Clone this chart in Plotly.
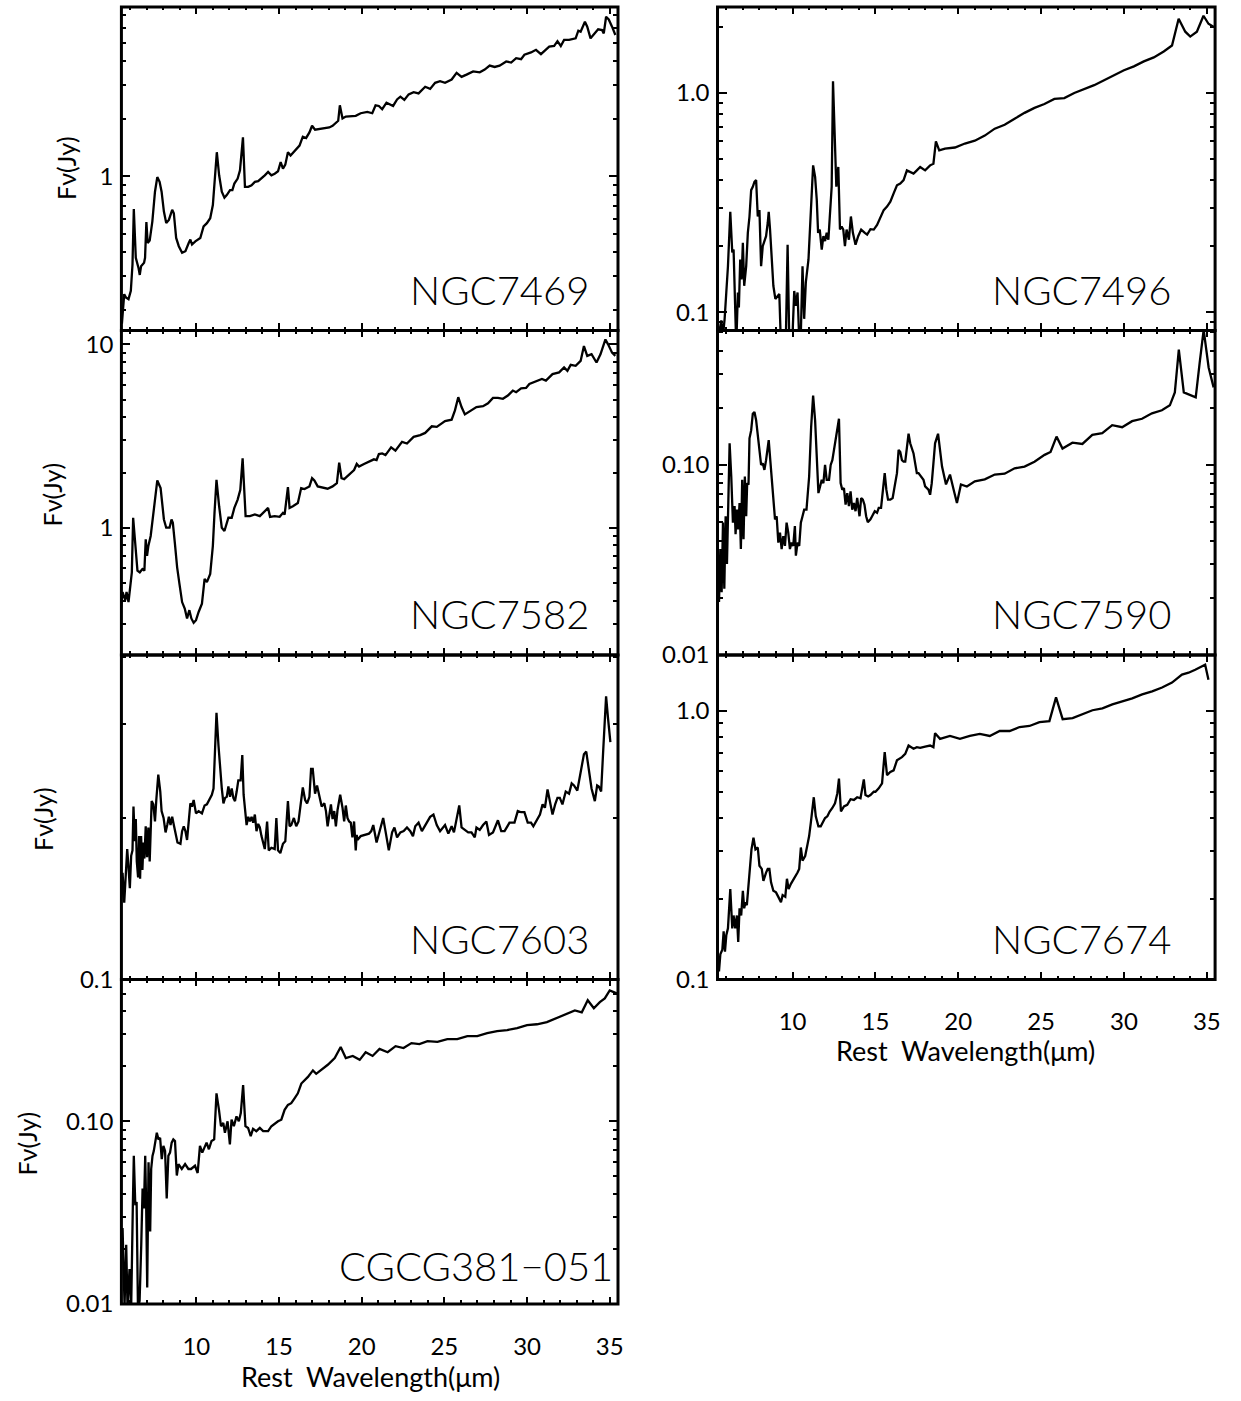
import plotly.graph_objects as go

# ---------------- spectra: rest wavelength (micron) / flux density (Jy) ----------------
ngc7469_wave = [5.50, 5.64, 5.74, 5.90, 6.04, 6.14, 6.22, 6.34, 6.50, 6.58,
                6.66, 6.84, 6.90, 6.98, 7.06, 7.18, 7.34, 7.50, 7.64, 7.78,
                7.90, 8.04, 8.18, 8.34, 8.54, 8.64, 8.78, 8.94, 9.14, 9.34,
                9.54, 9.64, 9.74, 9.94, 10.24, 10.44, 10.64, 10.84, 11.00, 11.14,
                11.24, 11.38, 11.54, 11.70, 11.84, 12.04, 12.18, 12.30, 12.50, 12.64,
                12.74, 12.82, 12.94, 13.14, 13.34, 13.54, 13.74, 13.94, 14.14, 14.34,
                14.54, 14.74, 14.94, 15.10, 15.24, 15.38, 15.54, 15.70, 15.94, 16.24,
                16.44, 16.64, 16.84, 17.00, 17.18, 17.44, 17.74, 18.04, 18.24, 18.44,
                18.58, 18.68, 18.84, 19.04, 19.34, 19.64, 19.94, 20.34, 20.64, 20.84,
                21.04, 21.24, 21.50, 21.70, 21.90, 22.14, 22.34, 22.58, 22.84, 23.14,
                23.44, 23.84, 24.14, 24.44, 24.74, 25.04, 25.44, 25.74, 26.04, 26.34,
                26.74, 27.14, 27.44, 27.74, 28.04, 28.34, 28.74, 29.04, 29.34, 29.64,
                29.84, 30.24, 30.54, 30.84, 31.14, 31.34, 31.64, 31.84, 32.04, 32.24,
                32.54, 32.94, 33.10, 33.24, 33.50, 33.64, 33.84, 34.04, 34.30, 34.54,
                34.64, 34.78, 34.94, 35.14, 35.34]
ngc7469_flux = [0.169, 0.241, 0.232, 0.227, 0.251, 0.345, 0.674, 0.374, 0.332, 0.304,
                0.338, 0.352, 0.374, 0.575, 0.447, 0.460, 0.579, 0.830, 0.990, 0.935,
                0.830, 0.653, 0.568, 0.591, 0.667, 0.640, 0.475, 0.430, 0.397, 0.405,
                0.447, 0.466, 0.439, 0.456, 0.475, 0.546, 0.568, 0.603, 0.707, 0.973,
                1.337, 1.012, 0.830, 0.772, 0.797, 0.846, 0.846, 0.916, 0.973, 1.074,
                1.337, 1.600, 0.881, 0.881, 0.898, 0.935, 0.942, 0.973, 1.012, 1.053,
                1.012, 1.032, 1.062, 1.186, 1.096, 1.150, 1.337, 1.285, 1.348, 1.448,
                1.613, 1.588, 1.698, 1.840, 1.754, 1.767, 1.782, 1.803, 1.840, 1.914,
                1.954, 2.356, 2.009, 2.056, 2.074, 2.074, 2.140, 2.175, 2.140, 2.356,
                2.337, 2.246, 2.431, 2.384, 2.337, 2.529, 2.612, 2.512, 2.686, 2.762,
                2.718, 2.944, 2.871, 3.090, 3.148, 3.090, 3.214, 3.483, 3.319, 3.412,
                3.548, 3.508, 3.622, 3.802, 3.741, 3.802, 4.000, 3.945, 4.159, 4.111,
                4.335, 4.457, 4.603, 4.365, 4.603, 4.786, 4.819, 5.105, 4.819, 5.188,
                5.188, 5.284, 5.794, 5.727, 6.457, 6.081, 5.284, 5.569, 5.888, 5.834,
                5.610, 6.855, 6.637, 6.081, 5.500]

ngc7582_wave = [5.44, 5.54, 5.70, 5.78, 5.90, 6.04, 6.10, 6.18, 6.30, 6.44,
                6.58, 6.74, 6.86, 6.94, 7.02, 7.10, 7.24, 7.38, 7.50, 7.64,
                7.84, 7.94, 8.04, 8.18, 8.38, 8.50, 8.58, 8.70, 8.84, 8.98,
                9.14, 9.30, 9.44, 9.58, 9.70, 9.84, 9.98, 10.14, 10.34, 10.50,
                10.64, 10.84, 11.00, 11.10, 11.22, 11.38, 11.54, 11.70, 11.84, 11.94,
                12.14, 12.30, 12.50, 12.66, 12.80, 12.90, 12.98, 13.24, 13.54, 13.84,
                14.14, 14.34, 14.46, 14.74, 15.04, 15.24, 15.34, 15.54, 15.64, 15.84,
                16.14, 16.34, 16.54, 16.84, 17.00, 17.14, 17.34, 17.64, 17.94, 18.24,
                18.50, 18.64, 18.78, 18.94, 19.24, 19.54, 19.70, 19.84, 20.14, 20.44,
                20.74, 20.90, 21.04, 21.24, 21.44, 21.78, 22.04, 22.44, 22.74, 23.14,
                23.54, 23.84, 24.24, 24.54, 25.04, 25.44, 25.64, 25.84, 26.04, 26.24,
                26.54, 26.94, 27.34, 27.64, 27.94, 28.24, 28.54, 28.84, 29.14, 29.34,
                29.64, 29.94, 30.14, 30.54, 30.90, 31.14, 31.54, 31.94, 32.24, 32.44,
                32.64, 32.94, 33.24, 33.44, 33.64, 33.90, 34.20, 34.44, 34.74, 34.90,
                35.14, 35.34]
ngc7582_flux = [0.362, 0.446, 0.402, 0.446, 0.393, 0.505, 0.571, 1.133, 0.796, 0.583,
                0.571, 0.595, 0.583, 0.865, 0.703, 0.796, 0.901, 1.133, 1.483, 1.810,
                1.645, 1.365, 1.109, 1.000, 1.000, 1.109, 1.064, 0.830, 0.608, 0.494,
                0.393, 0.362, 0.320, 0.355, 0.320, 0.303, 0.313, 0.347, 0.385, 0.526,
                0.505, 0.560, 0.796, 1.205, 1.825, 1.309, 1.000, 0.959, 1.064, 1.133,
                1.133, 1.282, 1.423, 1.611, 2.390, 1.452, 1.156, 1.156, 1.180, 1.156,
                1.230, 1.282, 1.146, 1.156, 1.146, 1.205, 1.180, 1.667, 1.282, 1.309,
                1.365, 1.645, 1.625, 1.680, 1.862, 1.810, 1.680, 1.660, 1.632, 1.680,
                1.750, 2.265, 1.862, 1.840, 1.942, 2.065, 2.228, 2.154, 2.228, 2.291,
                2.360, 2.340, 2.523, 2.543, 2.490, 2.741, 2.630, 2.938, 2.879, 3.128,
                3.198, 3.289, 3.573, 3.548, 3.819, 3.882, 4.365, 5.152, 4.550, 4.150,
                4.325, 4.550, 4.603, 4.775, 5.105, 5.105, 5.047, 5.260, 5.598, 5.483,
                5.754, 5.781, 6.081, 6.281, 6.471, 6.339, 6.887, 7.031, 7.482, 7.178,
                7.727, 7.638, 8.128, 9.795, 8.650, 8.831, 7.962, 8.831, 10.64, 10.00,
                9.016, 8.650]

ngc7603_wave = [5.44, 5.54, 5.64, 5.74, 5.82, 5.90, 5.98, 6.06, 6.14, 6.20,
                6.28, 6.34, 6.40, 6.48, 6.54, 6.60, 6.66, 6.74, 6.80, 6.86,
                6.94, 7.02, 7.10, 7.18, 7.26, 7.30, 7.40, 7.50, 7.58, 7.70,
                7.82, 7.90, 8.02, 8.14, 8.24, 8.34, 8.44, 8.54, 8.64, 8.74,
                8.86, 9.04, 9.14, 9.24, 9.34, 9.44, 9.54, 9.64, 9.74, 9.84,
                9.98, 10.14, 10.34, 10.50, 10.64, 10.78, 10.94, 11.04, 11.14, 11.22,
                11.34, 11.44, 11.54, 11.64, 11.74, 11.84, 11.94, 12.04, 12.14, 12.24,
                12.34, 12.44, 12.54, 12.68, 12.78, 12.86, 12.94, 13.04, 13.14, 13.24,
                13.34, 13.44, 13.54, 13.64, 13.74, 13.84, 13.94, 14.14, 14.28, 14.38,
                14.54, 14.74, 14.84, 14.94, 15.08, 15.24, 15.38, 15.54, 15.64, 15.74,
                15.90, 16.04, 16.18, 16.34, 16.44, 16.58, 16.70, 16.84, 16.94, 17.04,
                17.18, 17.30, 17.44, 17.58, 17.74, 17.84, 17.94, 18.04, 18.14, 18.24,
                18.34, 18.44, 18.54, 18.70, 18.84, 18.94, 19.04, 19.14, 19.24, 19.34,
                19.44, 19.54, 19.64, 19.70, 19.74, 19.94, 20.14, 20.44, 20.58, 20.70,
                20.90, 21.10, 21.30, 21.44, 21.64, 21.84, 21.98, 22.14, 22.34, 22.54,
                22.74, 22.94, 23.10, 23.24, 23.44, 23.64, 23.84, 24.14, 24.34, 24.54,
                24.74, 25.04, 25.24, 25.44, 25.58, 25.74, 25.90, 26.04, 26.24, 26.44,
                26.64, 26.84, 26.94, 27.14, 27.34, 27.54, 27.70, 27.94, 28.24, 28.44,
                28.64, 28.94, 29.24, 29.44, 29.64, 29.84, 30.04, 30.24, 30.38, 30.64,
                30.78, 30.94, 31.08, 31.24, 31.34, 31.54, 31.70, 31.84, 31.98, 32.14,
                32.34, 32.54, 32.70, 32.84, 33.04, 33.24, 33.44, 33.58, 33.74, 33.90,
                34.10, 34.24, 34.34, 34.48, 34.60, 34.78, 34.90, 35.04]
ngc7603_flux = [0.139, 0.158, 0.139, 0.160, 0.175, 0.162, 0.148, 0.170, 0.174, 0.210,
                0.181, 0.199, 0.166, 0.155, 0.185, 0.154, 0.185, 0.160, 0.180, 0.168,
                0.193, 0.169, 0.192, 0.166, 0.194, 0.215, 0.212, 0.197, 0.216, 0.241,
                0.224, 0.206, 0.200, 0.188, 0.194, 0.201, 0.194, 0.201, 0.194, 0.188,
                0.180, 0.179, 0.189, 0.193, 0.189, 0.182, 0.200, 0.213, 0.210, 0.216,
                0.204, 0.206, 0.204, 0.211, 0.212, 0.216, 0.221, 0.227, 0.269, 0.314,
                0.273, 0.247, 0.227, 0.213, 0.218, 0.219, 0.229, 0.219, 0.227, 0.218,
                0.215, 0.224, 0.235, 0.235, 0.262, 0.221, 0.207, 0.194, 0.201, 0.197,
                0.201, 0.196, 0.203, 0.189, 0.195, 0.192, 0.185, 0.175, 0.197, 0.174,
                0.176, 0.175, 0.200, 0.174, 0.172, 0.179, 0.181, 0.215, 0.193, 0.194,
                0.200, 0.193, 0.197, 0.213, 0.228, 0.216, 0.213, 0.219, 0.247, 0.247,
                0.222, 0.230, 0.221, 0.210, 0.213, 0.206, 0.193, 0.203, 0.212, 0.199,
                0.206, 0.193, 0.207, 0.221, 0.209, 0.197, 0.211, 0.200, 0.197, 0.196,
                0.184, 0.197, 0.174, 0.186, 0.182, 0.185, 0.186, 0.187, 0.189, 0.194,
                0.180, 0.189, 0.200, 0.189, 0.174, 0.188, 0.192, 0.184, 0.188, 0.189,
                0.192, 0.189, 0.185, 0.193, 0.196, 0.189, 0.194, 0.201, 0.203, 0.194,
                0.189, 0.194, 0.187, 0.193, 0.188, 0.200, 0.211, 0.192, 0.190, 0.188,
                0.188, 0.184, 0.192, 0.190, 0.194, 0.197, 0.186, 0.188, 0.198, 0.189,
                0.189, 0.196, 0.196, 0.206, 0.205, 0.205, 0.196, 0.196, 0.193, 0.200,
                0.203, 0.212, 0.209, 0.226, 0.218, 0.203, 0.212, 0.218, 0.218, 0.212,
                0.224, 0.222, 0.232, 0.230, 0.225, 0.245, 0.263, 0.266, 0.247, 0.227,
                0.215, 0.230, 0.229, 0.224, 0.265, 0.337, 0.306, 0.277]

cgcg381_wave = [5.54, 5.66, 5.76, 5.84, 5.96, 6.06, 6.16, 6.22, 6.31, 6.39,
                6.47, 6.57, 6.67, 6.75, 6.83, 6.91, 6.97, 7.03, 7.11, 7.21,
                7.27, 7.35, 7.43, 7.51, 7.61, 7.71, 7.81, 7.91, 8.01, 8.11,
                8.21, 8.31, 8.41, 8.51, 8.61, 8.71, 8.82, 8.92, 9.12, 9.32,
                9.52, 9.68, 9.92, 10.08, 10.22, 10.36, 10.52, 10.62, 10.76, 10.92,
                11.08, 11.22, 11.37, 11.49, 11.63, 11.73, 11.89, 12.03, 12.13, 12.27,
                12.43, 12.57, 12.69, 12.83, 12.97, 13.13, 13.29, 13.43, 13.63, 13.84,
                14.04, 14.34, 14.54, 14.74, 14.94, 15.14, 15.34, 15.54, 15.74, 15.94,
                16.14, 16.35, 16.55, 16.75, 17.05, 17.25, 17.95, 18.37, 18.73, 19.04,
                19.46, 19.88, 20.24, 20.66, 21.08, 21.57, 22.05, 22.53, 23.01, 23.49,
                23.98, 24.58, 25.18, 25.78, 26.39, 26.99, 27.59, 28.19, 28.80, 29.40,
                30.00, 30.60, 31.20, 31.81, 32.41, 32.89, 33.31, 33.67, 34.04, 34.40,
                34.70, 35.00, 35.42]
cgcg381_flux = [0.0260, 0.0098, 0.0211, 0.0095, 0.0155, 0.0095, 0.0340, 0.0647, 0.0347, 0.0362,
                0.0095, 0.0104, 0.0211, 0.0428, 0.0333, 0.0647, 0.0333, 0.0123, 0.0596, 0.0249,
                0.0548, 0.0647, 0.0689, 0.0764, 0.0865, 0.0796, 0.0813, 0.0621, 0.0733, 0.0689,
                0.0378, 0.0647, 0.0674, 0.0764, 0.0796, 0.0780, 0.0505, 0.0583, 0.0548, 0.0583,
                0.0548, 0.0548, 0.0571, 0.0521, 0.0733, 0.0674, 0.0733, 0.0764, 0.0703, 0.0780,
                0.0796, 0.1423, 0.1156, 0.0940, 0.0979, 0.0865, 0.1000, 0.0748, 0.1021, 0.0940,
                0.1064, 0.1000, 0.1109, 0.1578, 0.0940, 0.0920, 0.0830, 0.0909, 0.0883, 0.0920,
                0.0883, 0.0883, 0.0940, 0.0971, 0.1000, 0.1021, 0.1156, 0.1230, 0.1256, 0.1336,
                0.1423, 0.161, 0.168, 0.175, 0.190, 0.182, 0.204, 0.222, 0.255, 0.222,
                0.228, 0.217, 0.239, 0.228, 0.249, 0.239, 0.258, 0.252, 0.268, 0.265,
                0.275, 0.272, 0.282, 0.282, 0.293, 0.293, 0.304, 0.312, 0.316, 0.324,
                0.336, 0.340, 0.349, 0.367, 0.386, 0.405, 0.395, 0.460, 0.416, 0.449,
                0.471, 0.521, 0.502]

ngc7496_wave = [5.56, 5.70, 5.80, 5.90, 6.00, 6.10, 6.24, 6.36, 6.44, 6.52,
                6.60, 6.70, 6.76, 6.84, 6.92, 7.00, 7.08, 7.20, 7.30, 7.40,
                7.50, 7.60, 7.70, 7.80, 7.90, 8.00, 8.10, 8.20, 8.30, 8.40,
                8.50, 8.56, 8.64, 8.74, 8.84, 8.96, 9.10, 9.20, 9.30, 9.50,
                9.60, 9.70, 9.80, 10.00, 10.10, 10.20, 10.30, 10.40, 10.50, 10.60,
                10.70, 10.80, 10.96, 11.10, 11.24, 11.36, 11.46, 11.54, 11.64, 11.76,
                11.86, 11.96, 12.06, 12.16, 12.28, 12.36, 12.44, 12.54, 12.64, 12.76,
                12.86, 12.96, 13.06, 13.16, 13.26, 13.40, 13.52, 13.64, 13.80, 13.96,
                14.14, 14.36, 14.50, 14.70, 14.90, 15.10, 15.30, 15.50, 15.70, 15.90,
                16.10, 16.30, 16.50, 16.70, 16.90, 17.10, 17.30, 17.50, 17.70, 18.00,
                18.30, 18.50, 18.65, 18.85, 19.20, 19.80, 20.40, 21.00, 21.60, 22.20,
                22.80, 23.40, 24.00, 24.60, 25.20, 25.80, 26.40, 27.00, 27.60, 28.20,
                28.80, 29.40, 30.00, 30.60, 31.20, 31.80, 32.40, 32.90, 33.30, 33.70,
                34.00, 34.40, 34.80, 35.10, 35.40]
ngc7496_flux = [0.080, 0.0917, 0.078, 0.0933, 0.123, 0.162, 0.287, 0.187, 0.193, 0.123,
                0.070, 0.123, 0.105, 0.174, 0.141, 0.207, 0.132, 0.162, 0.230, 0.273,
                0.360, 0.373, 0.393, 0.400, 0.273, 0.292, 0.162, 0.200, 0.214, 0.222,
                0.255, 0.287, 0.238, 0.187, 0.132, 0.115, 0.119, 0.121, 0.070, 0.060,
                0.080, 0.203, 0.075, 0.080, 0.125, 0.107, 0.123, 0.075, 0.080, 0.162,
                0.0933, 0.137, 0.174, 0.283, 0.467, 0.414, 0.325, 0.230, 0.238, 0.193,
                0.222, 0.211, 0.230, 0.214, 0.325, 0.373, 1.129, 0.649, 0.373, 0.459,
                0.238, 0.246, 0.238, 0.200, 0.238, 0.214, 0.273, 0.230, 0.203, 0.222,
                0.238, 0.230, 0.226, 0.239, 0.238, 0.250, 0.268, 0.292, 0.303, 0.319,
                0.348, 0.379, 0.386, 0.400, 0.443, 0.436, 0.428, 0.443, 0.459, 0.443,
                0.467, 0.475, 0.600, 0.546, 0.557, 0.563, 0.587, 0.605, 0.638, 0.686,
                0.715, 0.761, 0.810, 0.853, 0.889, 0.937, 0.946, 0.997, 1.039, 1.083,
                1.141, 1.202, 1.266, 1.319, 1.390, 1.449, 1.542, 1.641, 2.173, 1.898,
                1.803, 1.898, 2.243, 2.063, 2.000]

ngc7590_wave = [5.56, 5.64, 5.72, 5.80, 5.88, 5.96, 6.04, 6.12, 6.20, 6.30,
                6.40, 6.50, 6.56, 6.64, 6.72, 6.80, 6.88, 6.96, 7.04, 7.12,
                7.20, 7.26, 7.34, 7.40, 7.50, 7.60, 7.70, 7.80, 7.90, 8.00,
                8.10, 8.20, 8.30, 8.40, 8.50, 8.56, 8.64, 8.74, 8.84, 8.94,
                9.04, 9.14, 9.24, 9.34, 9.44, 9.54, 9.64, 9.74, 9.84, 9.94,
                10.04, 10.14, 10.20, 10.30, 10.40, 10.50, 10.60, 10.70, 10.84, 11.00,
                11.12, 11.24, 11.36, 11.46, 11.56, 11.66, 11.76, 11.86, 11.96, 12.06,
                12.20, 12.30, 12.40, 12.50, 12.60, 12.70, 12.80, 12.90, 13.00, 13.10,
                13.20, 13.30, 13.40, 13.50, 13.60, 13.70, 13.80, 13.90, 14.04, 14.14,
                14.24, 14.34, 14.44, 14.54, 14.70, 14.80, 14.96, 15.10, 15.20, 15.34,
                15.46, 15.56, 15.66, 15.76, 15.90, 16.04, 16.16, 16.30, 16.40, 16.50,
                16.60, 16.70, 16.80, 16.90, 17.00, 17.10, 17.20, 17.30, 17.40, 17.50,
                17.60, 17.76, 17.90, 18.00, 18.10, 18.20, 18.30, 18.40, 18.50, 18.60,
                18.78, 19.02, 19.26, 19.50, 19.74, 19.92, 20.16, 20.52, 21.00, 21.60,
                22.20, 22.80, 23.40, 24.00, 24.60, 25.21, 25.57, 25.93, 26.29, 26.89,
                27.49, 28.09, 28.69, 29.29, 29.89, 30.49, 31.09, 31.69, 32.29, 32.77,
                33.07, 33.31, 33.61, 33.97, 34.33, 34.57, 34.81, 35.11, 35.41]
ngc7590_flux = [0.0190, 0.0361, 0.0214, 0.0497, 0.0223, 0.0537, 0.0301, 0.0802, 0.130, 0.0869,
                0.0497, 0.0607, 0.0432, 0.0582, 0.0458, 0.0631, 0.0361, 0.0835, 0.0406, 0.0869,
                0.0537, 0.0802, 0.0787, 0.138, 0.152, 0.186, 0.190, 0.172, 0.144, 0.115,
                0.100, 0.102, 0.0942, 0.106, 0.120, 0.135, 0.110, 0.0835, 0.0657, 0.0517,
                0.0537, 0.0390, 0.0440, 0.0361, 0.0422, 0.0375, 0.0497, 0.0440, 0.0361, 0.0390,
                0.0375, 0.0477, 0.0333, 0.0390, 0.0375, 0.0497, 0.0537, 0.0582, 0.0582, 0.0869,
                0.158, 0.232, 0.172, 0.115, 0.0711, 0.0771, 0.0835, 0.0802, 0.100, 0.0835,
                0.0835, 0.100, 0.106, 0.120, 0.135, 0.152, 0.175, 0.0802, 0.0741, 0.0756,
                0.0618, 0.0711, 0.0607, 0.0726, 0.0582, 0.0631, 0.0571, 0.0670, 0.0537, 0.0670,
                0.0657, 0.0618, 0.0537, 0.0500, 0.0517, 0.0537, 0.0571, 0.0560, 0.0594, 0.0594,
                0.0741, 0.0905, 0.0741, 0.0657, 0.0657, 0.0670, 0.0771, 0.0905, 0.120, 0.117,
                0.106, 0.104, 0.104, 0.120, 0.146, 0.130, 0.122, 0.115, 0.102, 0.0905,
                0.0905, 0.0869, 0.0835, 0.0771, 0.0756, 0.0741, 0.0697, 0.0802, 0.102, 0.130,
                0.146, 0.098, 0.079, 0.089, 0.073, 0.063, 0.079, 0.077, 0.082, 0.084,
                0.089, 0.090, 0.096, 0.098, 0.104, 0.113, 0.117, 0.141, 0.122, 0.131,
                0.129, 0.144, 0.147, 0.162, 0.158, 0.170, 0.175, 0.187, 0.194, 0.206,
                0.241, 0.405, 0.241, 0.233, 0.227, 0.346, 0.514, 0.326, 0.256]

ngc7674_wave = [5.56, 5.64, 5.76, 5.84, 5.92, 6.00, 6.10, 6.24, 6.36, 6.44,
                6.54, 6.64, 6.72, 6.80, 6.90, 7.00, 7.08, 7.16, 7.24, 7.34,
                7.44, 7.52, 7.64, 7.76, 7.90, 8.00, 8.14, 8.24, 8.40, 8.50,
                8.60, 8.70, 8.84, 9.00, 9.14, 9.30, 9.40, 9.56, 9.66, 9.76,
                9.90, 10.10, 10.30, 10.40, 10.50, 10.60, 10.76, 10.90, 11.00, 11.10,
                11.20, 11.28, 11.40, 11.56, 11.70, 11.84, 11.96, 12.10, 12.24, 12.40,
                12.56, 12.70, 12.80, 12.92, 13.10, 13.30, 13.50, 13.70, 13.90, 14.10,
                14.30, 14.40, 14.56, 14.70, 14.90, 15.00, 15.20, 15.40, 15.56, 15.70,
                15.90, 16.10, 16.30, 16.60, 16.80, 17.00, 17.30, 17.50, 17.70, 18.00,
                18.30, 18.50, 18.60, 18.90, 19.50, 20.10, 20.70, 21.30, 21.90, 22.50,
                23.10, 23.70, 24.30, 24.90, 25.50, 25.90, 26.30, 26.90, 27.50, 28.10,
                28.70, 29.30, 29.90, 30.50, 31.10, 31.70, 32.30, 32.90, 33.50, 33.90,
                34.30, 34.70, 34.90, 35.10]
ngc7674_flux = [0.107, 0.124, 0.129, 0.151, 0.127, 0.146, 0.155, 0.217, 0.155, 0.173,
                0.155, 0.173, 0.138, 0.184, 0.173, 0.214, 0.184, 0.194, 0.189, 0.224,
                0.258, 0.305, 0.337, 0.305, 0.310, 0.265, 0.258, 0.233, 0.250, 0.258,
                0.258, 0.230, 0.214, 0.211, 0.203, 0.194, 0.206, 0.203, 0.237, 0.217,
                0.227, 0.237, 0.250, 0.258, 0.310, 0.277, 0.288, 0.318, 0.342, 0.383,
                0.441, 0.477, 0.405, 0.372, 0.372, 0.388, 0.399, 0.405, 0.422, 0.435,
                0.453, 0.493, 0.560, 0.422, 0.441, 0.447, 0.469, 0.466, 0.477, 0.473,
                0.556, 0.486, 0.480, 0.486, 0.500, 0.500, 0.515, 0.537, 0.703, 0.577,
                0.593, 0.601, 0.655, 0.673, 0.692, 0.743, 0.723, 0.733, 0.729, 0.737,
                0.743, 0.733, 0.826, 0.787, 0.807, 0.787, 0.807, 0.821, 0.807, 0.842,
                0.842, 0.871, 0.879, 0.909, 0.916, 1.123, 0.932, 0.940, 0.973, 1.006,
                1.023, 1.058, 1.086, 1.114, 1.152, 1.182, 1.222, 1.275, 1.365, 1.388,
                1.424, 1.460, 1.486, 1.308]

# ---------------- panel setup ----------------
names = ["NGC7469", "NGC7582", "NGC7603", "CGCG381\u2212051", "NGC7496", "NGC7590", "NGC7674"]
waves = [ngc7469_wave, ngc7582_wave, ngc7603_wave, cgcg381_wave, ngc7496_wave, ngc7590_wave, ngc7674_wave]
fluxes = [ngc7469_flux, ngc7582_flux, ngc7603_flux, cgcg381_flux, ngc7496_flux, ngc7590_flux, ngc7674_flux]
# log10 limits of each flux axis
y_limits = [(-0.808, 0.8875), (-0.694, 1.076), (-1.0, -0.395), (-2.0, -0.223),
            (-1.083, 0.391), (-2.0, -0.292), (-1.0, 0.2086)]
y_major = [[1], [1, 10], [0.1], [0.01, 0.1], [0.1, 1], [0.01, 0.1], [0.1, 1]]
y_major_text = [["1"], ["1", "10"], ["0.1"], ["0.01", "0.10"], ["0.1", "1.0"], ["0.01", "0.10"], ["0.1", "1.0"]]
x_major = [10, 15, 20, 25, 30, 35]
x_major_text = ["10", "15", "20", "25", "30", "35"]

W, H = 1241, 1401
col_x = [(122, 621), (721, 1221)]              # pixel extents of the two columns
row_y = [(5, 332), (332, 660), (660, 988), (988, 1316)]
grid = [(0, 0), (0, 1), (0, 2), (0, 3), (1, 0), (1, 1), (1, 2)]   # (column, row)
bottom_panels = {3, 6}

FONT = "Lato"
INK = "black"


def minor_log_ticks(lo, hi):
    vals = []
    for d in range(int(lo) - 1, int(hi) + 2):
        for k in range(2, 10):
            v = k * 10.0 ** d
            if 10 ** lo <= v <= 10 ** hi:
                vals.append(v)
    return vals


fig = go.Figure()
layout = {}
shapes = []
for i in range(7):
    c, r = grid[i]
    sfx = "" if i == 0 else str(i + 1)
    xa, ya = "x" + sfx, "y" + sfx
    fig.add_trace(go.Scatter(x=waves[i], y=fluxes[i], mode="lines", xaxis=xa, yaxis=ya,
                             line=dict(color=INK, width=2.3), showlegend=False,
                             hoverinfo="skip"))
    x0, x1 = col_x[c]
    yt, yb = row_y[r]
    layout["xaxis" + sfx] = dict(
        domain=[x0 / W, x1 / W], anchor=ya, range=[5.47, 35.5],
        showline=False, mirror="ticks",
        ticks="inside", ticklen=7, tickwidth=2, tickcolor=INK,
        tickvals=x_major, ticktext=x_major_text,
        showticklabels=(i in bottom_panels), ticklabelstandoff=26,
        tickfont=dict(family=FONT, size=24, color=INK),
        minor=dict(ticks="inside", ticklen=3.5, tickwidth=2, tickcolor=INK, tick0=0, dtick=1),
        showgrid=False, zeroline=False, fixedrange=True)
    lo, hi = y_limits[i]
    layout["yaxis" + sfx] = dict(
        domain=[1 - yb / H, 1 - yt / H], anchor=xa, type="log", range=[lo, hi],
        showline=False, mirror="ticks",
        ticks="inside", ticklen=9, tickwidth=2, tickcolor=INK,
        tickvals=y_major[i], ticktext=y_major_text[i], ticklabelstandoff=7,
        tickfont=dict(family=FONT, size=24, color=INK),
        minor=dict(ticks="inside", ticklen=5, tickwidth=2, tickcolor=INK,
                   tickvals=minor_log_ticks(lo, hi)),
        showgrid=False, zeroline=False, fixedrange=True)
    # panel frame
    shapes.append(dict(type="rect", xref="paper", yref="paper",
                       x0=x0 / W, x1=x1 / W, y0=1 - yb / H, y1=1 - yt / H,
                       line=dict(color=INK, width=3), fillcolor="rgba(0,0,0,0)",
                       layer="above"))

annotations = []
# galaxy names, bottom right of each panel
name_pos = [(594, 291.5), (594, 619), (594, 947), (618, 1278),
            (1179, 291.5), (1179, 619), (1179, 947)]
for i, (px, py) in enumerate(name_pos):
    annotations.append(dict(text=names[i], x=px / W, y=1 - py / H, xref="paper", yref="paper",
                            xanchor="right", yanchor="middle", showarrow=False,
                            font=dict(family=FONT, size=40, color=INK, weight=300)))
# flux axis titles (left column only)
ytitle_pos = [(67, 168), (52, 498), (43, 826), (27, 1154)]
for px, py in ytitle_pos:
    annotations.append(dict(text="F\u03bd(Jy)", x=px / W, y=1 - py / H, xref="paper", yref="paper",
                            xanchor="center", yanchor="middle", textangle=-90, showarrow=False,
                            font=dict(family=FONT, size=25, color=INK)))
# wavelength axis titles
for px, py in [(372, 1389), (970, 1060)]:
    annotations.append(dict(text="Rest  Wavelength(\u03bcm)", x=px / W, y=1 - py / H,
                            xref="paper", yref="paper", xanchor="center", yanchor="middle",
                            showarrow=False, font=dict(family=FONT, size=27, color=INK)))

fig.update_layout(width=W, height=H, margin=dict(l=0, r=0, t=0, b=0),
                  paper_bgcolor="white", plot_bgcolor="white",
                  annotations=annotations, shapes=shapes, **layout)
fig.write_html("out.html")
